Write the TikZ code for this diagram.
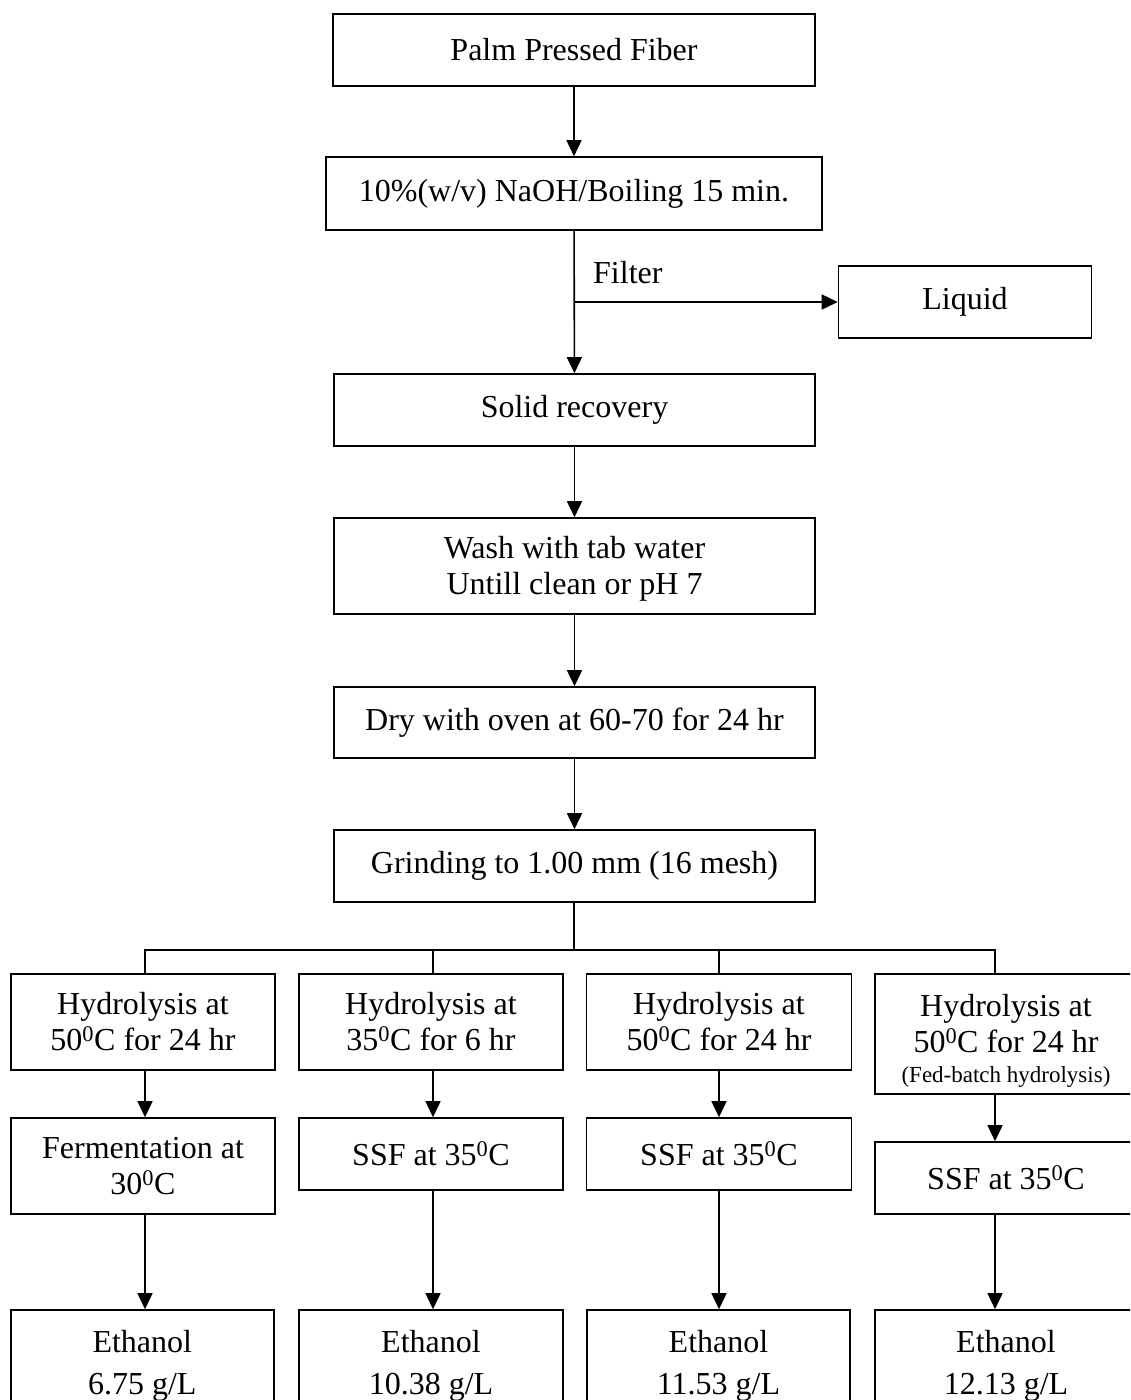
\documentclass[tikz,border=0pt]{standalone}
\usepackage{fontspec}
\setmainfont{Liberation Serif}
\usetikzlibrary{arrows.meta}
\begin{document}
\begin{tikzpicture}[x=1pt,y=-1pt,
  box/.style={draw,line width=1.6pt,align=center,inner sep=0pt,font=\fontsize{32}{36}\selectfont},
  arr/.style={line width=1.6pt,-{Triangle[length=16pt,width=15pt]}},
  ln/.style={line width=1.6pt},
  lbl/.style={font=\fontsize{32}{36}\selectfont,inner sep=0pt}]
\useasboundingbox (0,0) rectangle (1130,1400);
\clip (0,0) rectangle (1130,1400);
% main column
\node[box,minimum width=482pt,minimum height=72pt] (palm) at (574,50) {Palm Pressed Fiber};
\node[box,minimum width=496pt,minimum height=73pt] (naoh) at (574,193.5) {10\%(w/v) NaOH/Boiling 15 min.};
\node[box,minimum width=253pt,minimum height=72pt] (liquid) at (965,302) {Liquid};
\node[box,minimum width=481pt,minimum height=72pt] (solid) at (574.5,410) {Solid recovery};
\node[box,minimum width=481pt,minimum height=96pt] (wash) at (574.5,566) {\rule{0pt}{27pt}Wash with tab water\\Untill clean or pH 7};
\node[box,minimum width=481pt,minimum height=71pt] (dry) at (574.5,722.5) {Dry with oven at 60-70 for 24 hr};
\node[box,minimum width=481pt,minimum height=72pt] (grind) at (574.5,866) {Grinding to 1.00 mm (16 mesh)};
\node[lbl,anchor=west] (filter) at (593,273) {Filter};
\coordinate (fj) at (574,302);
% branch coordinates
\coordinate (bj) at (574,950);
\coordinate (b1) at (145,950);
\coordinate (b2) at (433,950);
\coordinate (b3) at (719,950);
\coordinate (b4) at (995,950);
% row 1
\node[box,minimum width=264pt,minimum height=96pt] (h1) at (143,1022) {Hydrolysis at\\50\textsuperscript{0}C for 24 hr};
\node[box,minimum width=264pt,minimum height=96pt] (h2) at (431,1022) {Hydrolysis at\\35\textsuperscript{0}C for 6 hr};
\node[box,minimum width=265pt,minimum height=96pt] (h3) at (719,1022) {Hydrolysis at\\50\textsuperscript{0}C for 24 hr};
\node[box,minimum width=262pt,minimum height=120pt] (h4) at (1006,1034) {\rule{0pt}{36pt}Hydrolysis at\\50\textsuperscript{0}C for 24 hr\\[-6pt]{\fontsize{23}{26}\selectfont (Fed-batch hydrolysis)}};
% row 2
\node[box,minimum width=264pt,minimum height=96pt] (f1) at (143,1166) {Fermentation at\\30\textsuperscript{0}C};
\node[box,minimum width=264pt,minimum height=72pt] (s2) at (431,1154) {SSF at 35\textsuperscript{0}C};
\node[box,minimum width=265pt,minimum height=72pt] (s3) at (719,1154) {SSF at 35\textsuperscript{0}C};
\node[box,minimum width=262pt,minimum height=72pt] (s4) at (1006,1178) {SSF at 35\textsuperscript{0}C};
% row 3
\node[box,minimum width=263pt,minimum height=96pt] (e1) at (142.3,1358) {\rule{0pt}{37pt}Ethanol\\[6pt]6.75 g/L};
\node[box,minimum width=264pt,minimum height=96pt] (e2) at (431,1358) {\rule{0pt}{37pt}Ethanol\\[6pt]10.38 g/L};
\node[box,minimum width=263pt,minimum height=96pt] (e3) at (718.5,1358) {\rule{0pt}{37pt}Ethanol\\[6pt]11.53 g/L};
\node[box,minimum width=262pt,minimum height=96pt] (e4) at (1006,1358) {\rule{0pt}{37pt}Ethanol\\[6pt]12.13 g/L};
% connectors
\draw[arr] (palm) -- (naoh);
\draw[arr] (naoh) -- (solid);
\draw[arr] (fj) -- (liquid.west);
\draw[arr] (solid) -- (wash);
\draw[arr] (wash) -- (dry);
\draw[arr] (dry) -- (grind);
\draw[ln] (grind.south -| bj) -- (bj);
\draw[ln] (b1 |- h1.north) -- (b1) -- (b4) -- (b4 |- h4.north);
\draw[ln] (b2) -- (b2 |- h2.north);
\draw[ln] (b3) -- (b3 |- h3.north);
\draw[arr] (h1.south -| b1) -- (f1.north -| b1);
\draw[arr] (h2.south -| b2) -- (s2.north -| b2);
\draw[arr] (h3.south -| b3) -- (s3.north -| b3);
\draw[arr] (h4.south -| b4) -- (s4.north -| b4);
\draw[arr] (f1.south -| b1) -- (e1.north -| b1);
\draw[arr] (s2.south -| b2) -- (e2.north -| b2);
\draw[arr] (s3.south -| b3) -- (e3.north -| b3);
\draw[arr] (s4.south -| b4) -- (e4.north -| b4);
\end{tikzpicture}
\end{document}
